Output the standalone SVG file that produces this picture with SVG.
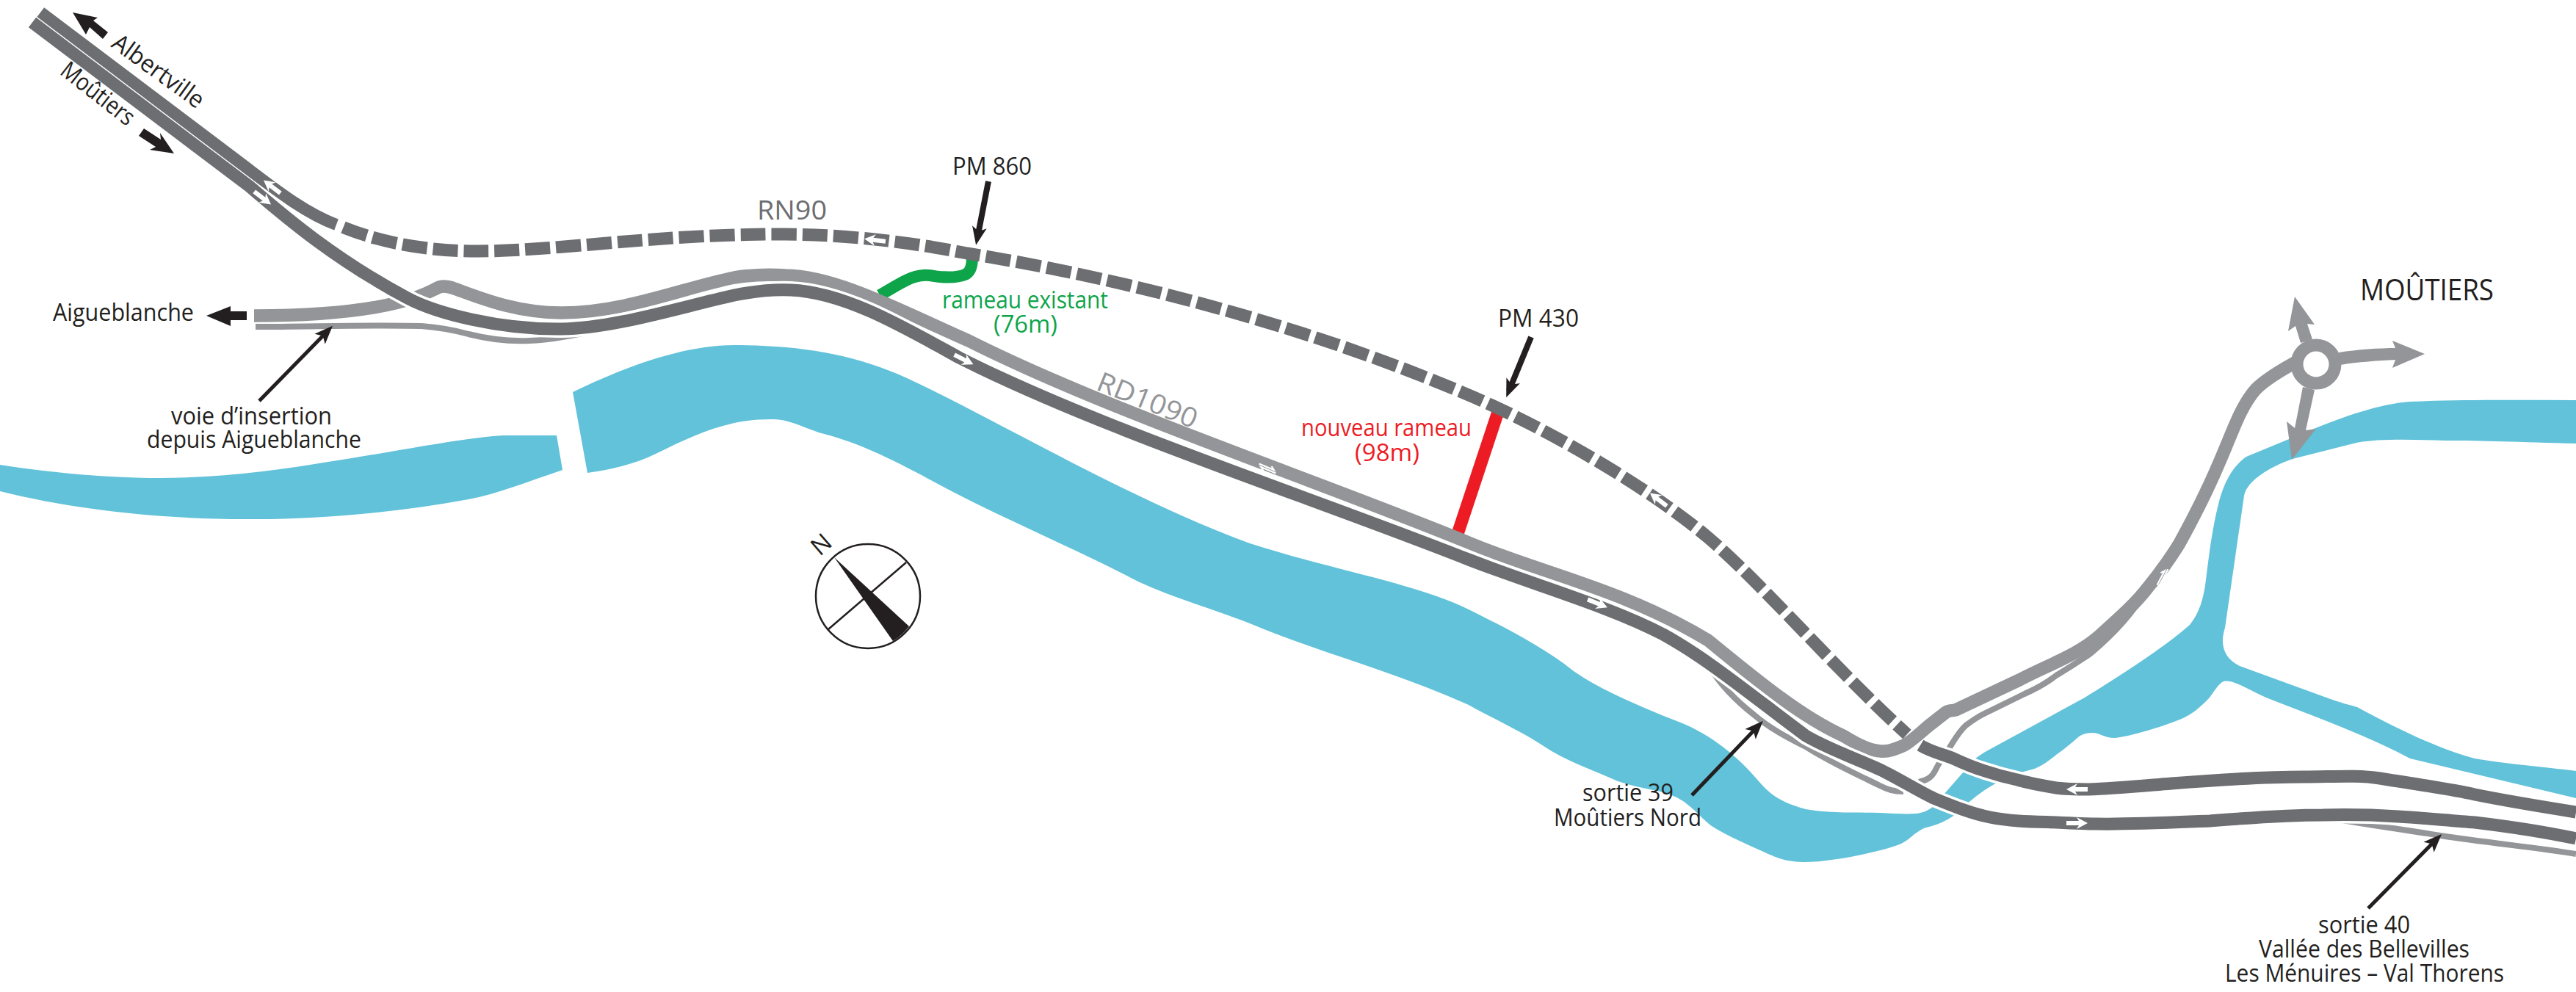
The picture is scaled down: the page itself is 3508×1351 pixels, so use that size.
<svg xmlns="http://www.w3.org/2000/svg" width="3508" height="1351" viewBox="0 0 3508 1351">
<style>
.t{font-family:"Open Sans","Noto Sans","Liberation Sans",sans-serif;font-weight:400;font-size:33px;fill:#231f20}
.g{fill:#0da44a}.r{fill:#ed1c24}
.road{fill:none;stroke-linejoin:round}
.dark{stroke:#6d6e71;stroke-width:17}
.grey{stroke:#939598;stroke-width:17.5}
.thin{stroke:#939598;stroke-width:8}
.case{stroke:#fff;stroke-width:24}
.gf{fill:#939598}
.bk{fill:#231f20}
.ptr{fill:none;stroke:#231f20;stroke-width:5;marker-end:url(#head)}
</style>
<defs>
<marker id="head" markerUnits="userSpaceOnUse" markerWidth="40" markerHeight="30" refX="20" refY="15" orient="auto"><path d="M30,15L5,5L11,15L5,25Z" fill="#231f20"/></marker>
<path id="wa" d="M-15,-3H2L-1,-8L14,0L-1,8L2,3H-15Z" fill="#fff"/>
<path id="wd" d="M-13,-1.5H9L4,-5M13,1.5H-9L-4,5" fill="none" stroke="#fff" stroke-width="2.2"/>
</defs>
<rect width="3508" height="1351" fill="#fff"/>
<g id="river" fill="#61c2da">
<path d="M0,633C70,644 150,651 217,651C300,651 380,640 447,629C540,615 630,596 686,593L758,593L766,640C720,655 680,672 638,680C540,698 430,708 335,707C220,707 100,694 0,669Z"/>
<path d="M780,534C850,500 930,470 1000,470C1090,470 1170,482 1250,522C1380,585 1540,680 1702,740C1810,775 1930,795 2000,830C2050,855 2100,880 2143,914C2180,940 2240,965 2286,983C2330,1000 2365,1030 2388,1056C2405,1075 2415,1090 2459,1102C2490,1108 2530,1106 2560,1107C2580,1108 2595,1109 2610,1108C2618,1107 2626,1104 2633,1098L2689,1034C2695,1029 2700,1026 2707,1022L2839,950C2880,925 2950,880 2982,851C2995,835 3001,815 3004,790C3010,740 3015,710 3021,687C3030,650 3045,632 3059,622L3151,584C3190,568 3240,550 3282,547C3350,544 3430,545 3508,545L3508,604C3430,602 3380,600 3330,600C3290,599 3240,597 3209,603L3122,625C3090,636 3060,655 3056,675L3030,855C3022,880 3030,897 3050,907L3168,950C3190,958 3200,960 3210,963C3260,990 3320,1020 3370,1033C3410,1040 3470,1045 3508,1050L3508,1087L3282,1033C3220,1000 3150,975 3086,950C3060,938 3040,925 3028,928C3022,930 3015,942 3009,950C2995,965 2985,972 2973,978C2945,990 2900,1003 2880,1005C2865,1005 2860,998 2849,998C2838,998 2832,1002 2829,1005C2820,1013 2810,1021 2800,1028C2790,1036 2780,1044 2767,1048C2760,1050 2755,1051 2748,1053L2716,1068C2705,1074 2695,1081 2683,1091L2662,1110C2650,1118 2640,1123 2623,1127C2618,1128 2612,1133 2607,1136C2600,1142 2595,1147 2584,1151C2560,1160 2490,1175 2454,1174C2430,1173 2420,1168 2408,1163C2380,1150 2355,1140 2331,1125C2315,1112 2310,1105 2301,1098C2290,1088 2280,1084 2265,1079C2240,1073 2215,1070 2194,1060C2160,1045 2130,1035 2102,1016C2070,995 2030,977 2000,960C1900,915 1800,890 1702,849C1640,825 1590,812 1542,788C1450,740 1350,700 1255,647C1200,618 1160,600 1115,589C1090,580 1070,570 1051,571C1030,571 1015,573 1000,576C960,585 930,600 893,618C865,632 830,640 800,644Z"/>
</g>
<g id="connectors">
<g id="branches" class="road thin">
<path d="M348,445C420,445 510,442 574,444C600,446 620,450 638,455C670,463 700,465 721,464C750,463 775,458 797,453"/>
<path d="M2329,910C2345,935 2365,955 2388,973C2410,992 2435,1005 2459,1017C2495,1040 2530,1055 2560,1070C2570,1075 2578,1078 2592,1078"/>
<path d="M2613,1065C2622,1063 2630,1060 2635,1050C2640,1040 2645,1032 2655,1018C2662,1007 2668,996 2677,988C2685,982 2692,977 2700,973L2757,945C2775,937 2790,928 2800,920C2825,905 2835,898 2847,890C2880,862 2905,835 2925,800"/>
<path d="M3153,1110C3210,1122 3265,1128 3323,1138C3390,1148 3460,1155 3508,1163"/>
</g>
<path id="green" class="road" stroke="#0da44a" stroke-width="16" d="M1324,350C1324,362 1322,371 1314,374C1305,378 1293,378 1280,377C1270,376 1265,374 1257,375C1238,376 1220,390 1198,402"/>
<path id="red" class="road" stroke="#ed1c24" stroke-width="17" d="M2042,555L1985,727"/>
<path id="rd1090" class="road grey" d="M346,430C420,430 490,425 542,412C565,407 580,400 592,394C600,389 606,389 616,392C650,404 700,426 765,426C850,426 930,392 1000,378C1030,373 1055,374 1070,375C1140,376 1230,425 1319,464C1510,560 1790,653 2000,739C2100,781 2210,802 2326,872C2385,920 2450,975 2510,1002C2530,1014 2545,1022 2561,1023C2572,1024 2582,1020 2593,1015C2605,1008 2615,998 2627,988L2650,970C2655,967 2660,968 2663,967L2750,926C2790,905 2830,892 2860,865C2890,838 2910,820 2925,800C2950,770 2968,740 2968,740C2990,700 3005,670 3020,635C3040,590 3050,555 3072,530C3085,517 3105,505 3125,494"/>
<path id="lower-case" class="road case" d="M340,254C380,288 450,350 555,406C595,427 680,449 765,448C835,447 920,420 1000,402C1030,396 1055,394 1077,395C1150,398 1230,445 1306,487C1500,585 1780,675 2000,762C2090,797 2190,825 2265,864C2330,900 2395,955 2459,1002C2490,1020 2525,1032 2560,1048C2585,1060 2610,1076 2633,1087C2660,1098 2685,1108 2710,1113C2740,1119 2770,1119 2800,1120C2820,1121 2840,1122 2854,1122C2900,1123 2960,1120 3009,1118C3060,1114 3110,1110 3163,1110C3200,1109 3235,1110 3266,1112C3300,1114 3340,1118 3370,1120C3420,1126 3470,1134 3508,1142"/>
<path id="lower" class="road dark" d="M44,30.5L340,254C380,288 450,350 555,406C595,427 680,449 765,448C835,447 920,420 1000,402C1030,396 1055,394 1077,395C1150,398 1230,445 1306,487C1500,585 1780,675 2000,762C2090,797 2190,825 2265,864C2330,900 2395,955 2459,1002C2490,1020 2525,1032 2560,1048C2585,1060 2610,1076 2633,1087C2660,1098 2685,1108 2710,1113C2740,1119 2770,1119 2800,1120C2820,1121 2840,1122 2854,1122C2900,1123 2960,1120 3009,1118C3060,1114 3110,1110 3163,1110C3200,1109 3235,1110 3266,1112C3300,1114 3340,1118 3370,1120C3420,1126 3470,1134 3508,1142"/>
<path id="upper-case" class="road case" d="M2615,1015C2630,1024 2645,1027 2660,1033C2675,1040 2690,1046 2703,1050C2718,1055 2733,1059 2747,1062C2765,1067 2782,1070 2800,1073C2815,1075 2830,1075 2844,1075C2880,1074 2920,1070 2957,1067C3020,1062 3080,1058 3138,1058C3175,1058 3210,1055 3241,1060C3290,1068 3340,1075 3370,1082C3420,1092 3470,1100 3508,1106"/>
<path id="upper" class="road dark" d="M2615,1015C2630,1024 2645,1027 2660,1033C2675,1040 2690,1046 2703,1050C2718,1055 2733,1059 2747,1062C2765,1067 2782,1070 2800,1073C2815,1075 2830,1075 2844,1075C2880,1074 2920,1070 2957,1067C3020,1062 3080,1058 3138,1058C3175,1058 3210,1055 3241,1060C3290,1068 3340,1075 3370,1082C3420,1092 3470,1100 3508,1106"/>
<path id="rn90-solid" class="road dark" style="stroke-width:16" d="M55.3,16.6L330,224C375,258 415,290 458,306"/>
<path id="rn90" class="road dark" stroke-dasharray="34 8" stroke-dashoffset="35" d="M461,307C520,332 585,342 651,342C760,342 900,318 1070,319C1160,320 1240,330 1317,345C1500,374 1760,435 2000,538C2100,580 2240,660 2326,732C2400,795 2500,912 2597,1000"/>
<use href="#wa" transform="translate(370,254) rotate(218)"/>
<use href="#wa" transform="translate(358,270) rotate(38)"/>
<use href="#wa" transform="translate(1191,327) rotate(187)"/>
<use href="#wa" transform="translate(1313,490) rotate(27)"/>
<use href="#wa" transform="translate(2258,680) rotate(218)"/>
<use href="#wa" transform="translate(2176,822) rotate(22)"/>
<use href="#wa" transform="translate(2828,1075) rotate(180)"/>
<use href="#wa" transform="translate(2829,1121)"/>
<use href="#wd" transform="translate(1726,638) rotate(23)"/>
<use href="#wd" transform="translate(2945,786) rotate(-62)"/>
<polyline class="ptr" points="353,546 446,451"/>
<polyline class="ptr" style="stroke-width:8" points="1346,247 1331,324"/>
<polyline class="ptr" style="stroke-width:8" points="2085,459 2055,532"/>
<polyline class="ptr" points="2304,1083 2394,989"/>
<polyline class="ptr" points="3225,1237 3318,1143"/>
<polygon class="bk" points="99,17 133,24 127,28 147,44 140,53 122,37 117,47"/>
<polygon class="bk" points="237,209 204,204 212,200 189,185 196,175 219,190 218,181"/>
<polygon class="bk" points="281,430 314,417 314,424 336,424 336,436 314,436 314,444"/>
</g>
<g id="roundabout">
<polygon class="gf" points="3133,467 3126,444 3116,451 3125,404 3152,442 3142,441 3149,462"/>
<polygon class="gf" points="3136,527 3125,583 3114,574 3121,626 3154,584 3140,586 3152,531"/>
<path class="gf" d="M3185,480C3210,476 3240,474 3262,474L3258,464L3302,482L3258,501L3262,490C3240,491 3210,493 3187,497Z"/>
<circle cx="3154" cy="496" r="26" fill="#fff" stroke="#939598" stroke-width="17"/>
</g>
<g id="compass">
<circle cx="1182" cy="812" r="71" fill="#fff" stroke="#231f20" stroke-width="2.5"/>
<line x1="1128" y1="857" x2="1234" y2="766" stroke="#231f20" stroke-width="2.5"/>
<path class="bk" d="M1136,759L1238,853A71,71 0 0 1 1216,873Z"/>
<text class="t" style="font-size:33px" text-anchor="middle" transform="translate(1118,741) rotate(-41)" y="12">N</text>
</g>
<g id="labels">
<text class="t" id="l-albertville" transform="translate(150,63) rotate(36)" textLength="146" lengthAdjust="spacingAndGlyphs">Albertville</text>
<text class="t" id="l-moutiers" transform="translate(80,100) rotate(38)" textLength="118" lengthAdjust="spacingAndGlyphs">Moûtiers</text>
<text class="t" id="l-aig" x="72" y="437" textLength="192" lengthAdjust="spacingAndGlyphs">Aigueblanche</text>
<g id="l-voie"><text class="t" x="233" y="578" textLength="219" lengthAdjust="spacingAndGlyphs">voie d’insertion</text><text class="t" x="200" y="610" textLength="292" lengthAdjust="spacingAndGlyphs">depuis Aigueblanche</text></g>
<text class="t" id="l-pm860" x="1297" y="238" textLength="108" lengthAdjust="spacingAndGlyphs">PM 860</text>
<text class="t" id="l-rn90" style="font-size:37px;fill:#6d6e71" x="1031" y="299" textLength="95" lengthAdjust="spacingAndGlyphs">RN90</text>
<g id="l-existant"><text class="t g" x="1283" y="420" textLength="226" lengthAdjust="spacingAndGlyphs">rameau existant</text><text class="t g" x="1353" y="453" textLength="87" lengthAdjust="spacingAndGlyphs">(76m)</text></g>
<text class="t" id="l-rd1090" style="font-size:37px;fill:#939598" transform="translate(1491,530) rotate(22)" textLength="144" lengthAdjust="spacingAndGlyphs">RD1090</text>
<g id="l-nouveau"><text class="t r" x="1772" y="594" textLength="232" lengthAdjust="spacingAndGlyphs">nouveau rameau</text><text class="t r" x="1845" y="628" textLength="88" lengthAdjust="spacingAndGlyphs">(98m)</text></g>
<text class="t" id="l-pm430" x="2040" y="445" textLength="110" lengthAdjust="spacingAndGlyphs">PM 430</text>
<g id="l-s39"><text class="t" x="2155" y="1091" textLength="124" lengthAdjust="spacingAndGlyphs">sortie 39</text><text class="t" x="2116" y="1125" textLength="201" lengthAdjust="spacingAndGlyphs">Moûtiers Nord</text></g>
<text class="t" id="l-moutiers2" style="font-size:40px" x="3214" y="409" textLength="182" lengthAdjust="spacingAndGlyphs">MOÛTIERS</text>
<g id="l-s40"><text class="t" x="3157" y="1271" textLength="125" lengthAdjust="spacingAndGlyphs">sortie 40</text><text class="t" x="3076" y="1304" textLength="287" lengthAdjust="spacingAndGlyphs">Vallée des Bellevilles</text><text class="t" x="3030" y="1337" textLength="380" lengthAdjust="spacingAndGlyphs">Les Ménuires – Val Thorens</text></g>
</g>
</svg>
